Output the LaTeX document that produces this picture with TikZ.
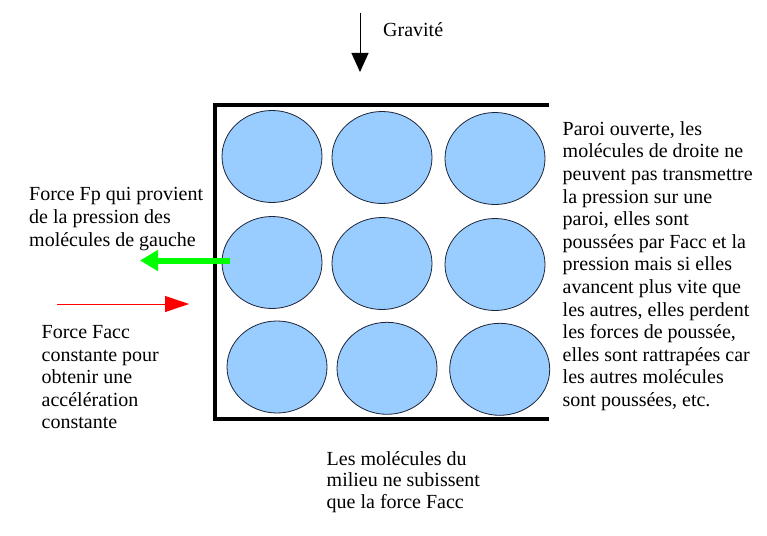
\documentclass[tikz,border=0pt]{standalone}
\usepackage{fontspec}
\setmainfont{Liberation Serif}
\usetikzlibrary{arrows.meta,shapes.geometric}
\definecolor{molfill}{HTML}{99CCFF}
\definecolor{moledge}{HTML}{1C2438}
\definecolor{fpgreen}{HTML}{00FF00}
\definecolor{accred}{HTML}{FF0000}
\begin{document}
\begin{tikzpicture}[x=1pt,y=-1pt,
  mol/.style={ellipse,draw=moledge,line width=0.8pt,fill=molfill,minimum width=100pt,minimum height=92pt,inner sep=0},
  txt/.style={font=\fontsize{20}{22.6}\selectfont,align=left,inner sep=0,anchor=north west},
  wall/.style={line width=4.5pt},
  fparrow/.style={draw=fpgreen,line width=6pt,-{Triangle[length=18pt,width=20pt]}},
  accarrow/.style={draw=accred,line width=1pt,-{Triangle[length=24pt,width=16pt]}},
  gravarrow/.style={draw=black,line width=1pt,-{Triangle[length=19pt,width=17pt]}}]
\useasboundingbox (0,0) rectangle (767,535);
\fill[white] (0,0) rectangle (767,535);
% wall
\draw[wall] (549,105) -- (215,105) -- (215,419) -- (549,419);
% molecules
\node[mol] (m11) at (272,156.5) {};
\node[mol] (m12) at (382,157.5) {};
\node[mol] (m13) at (495,158.5) {};
\node[mol] (m21) at (272,262.5) {};
\node[mol] (m22) at (382,263.5) {};
\node[mol] (m23) at (495,264.5) {};
\node[mol] (m31) at (277,367) {};
\node[mol] (m32) at (387,368.3) {};
\node[mol] (m33) at (499.7,369.3) {};
% gravity
\coordinate (g0) at (360,13);
\coordinate (g1) at (360,72);
\draw[gravarrow] (g0) -- (g1);
\node[txt,anchor=base west] (grav) at (383,37) {Gravité};
% green force
\coordinate (fp0) at (230,260.5);
\coordinate (fp1) at (140,260.5);
\draw[fparrow] (fp0) -- (fp1);
% red force
\coordinate (fa0) at (57,304);
\coordinate (fa1) at (189,304);
\draw[accarrow] (fa0) -- (fa1);
% texts
\node[txt] (tfp) at (29,200.7-15.8) {\strut Force Fp qui provient\\de la pression des\\molécules de gauche};
\node[txt] (tfacc) at (41.5,338.3-15.8) {\strut Force Facc\\constante pour\\obtenir une\\accélération\\constante};
\node[txt] (tright) at (562.5,135-15.8) {\strut Paroi ouverte, les\\molécules de droite ne\\peuvent pas transmettre\\la pression sur une\\paroi, elles sont\\poussées par Facc et la\\pression mais si elles\\avancent plus vite que\\les autres, elles perdent\\les forces de poussée,\\elles sont rattrapées car\\les autres molécules\\sont poussées, etc.};
\node[txt,font=\fontsize{20}{21.7}\selectfont] (tmid) at (326.5,465-15.2) {\strut Les molécules du\\milieu ne subissent\\que la force Facc};
\end{tikzpicture}
\end{document}
